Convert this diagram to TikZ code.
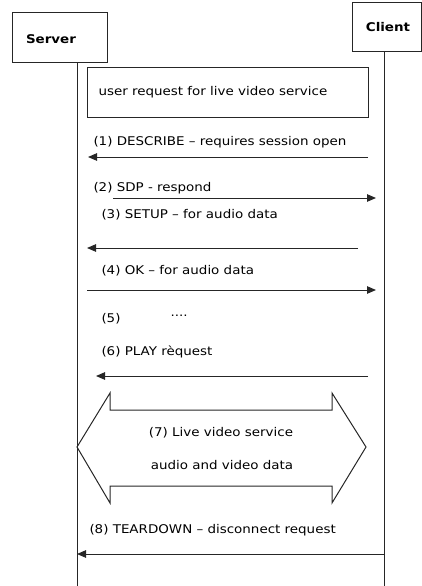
\documentclass[tikz,border=0pt]{standalone}
\usepackage{fontspec}
\setmainfont[FakeStretch=1.12]{DejaVu Sans}
\usetikzlibrary{arrows.meta}
\begin{document}
\begin{tikzpicture}[x=1pt,y=-1pt,
  line width=1pt, draw=black!85,
  box/.style={draw=black!85, rectangle, inner sep=0pt},
  lbl/.style={anchor=west, inner sep=0pt, text height=9pt, text depth=2.5pt, font=\fontsize{12}{14}\selectfont},
  ctr/.style={inner sep=0pt, text height=9pt, text depth=2.5pt, font=\fontsize{12}{14}\selectfont},
  head/.style={inner sep=0pt, font=\fontsize{12}{14}\selectfont\bfseries},
  msg/.style={draw=black!85, -{Triangle[length=9pt,width=7.5pt]}}]
\useasboundingbox (0,0) rectangle (422,586);
% participants
\node[box, minimum width=95pt, minimum height=50pt] (server) at (59.5,38) {};
\node[head] (servert) at (51,39) {Server};
\node[box, minimum width=69pt, minimum height=49pt] (client) at (386.5,27.5) {};
\node[head] (clientt) at (388,27) {Client};
% lifelines
\coordinate (stop) at (77,63);
\coordinate (sbot) at (77,586);
\coordinate (ctop) at (384.5,52);
\coordinate (cbot) at (384.5,586);
\draw (stop) -- (sbot);
\draw (ctop) -- (cbot);
% user request
\node[box, minimum width=281pt, minimum height=49pt] (req) at (227.5,92.5) {};
\node[lbl] (reqt) at (98,92) {user request for live video service};
% (1)
\node[lbl] (l1) at (93,142) {(1) DESCRIBE -- requires session open};
\coordinate (a1s) at (368,157);
\coordinate (a1e) at (88,157);
\draw[msg] (a1s) -- (a1e);
% (2)
\node[lbl] (l2) at (93,188) {(2) SDP - respond};
\coordinate (a2s) at (113,198);
\coordinate (a2e) at (376,198);
\draw[msg] (a2s) -- (a2e);
% (3)
\node[lbl] (l3) at (101,215) {(3) SETUP -- for audio data};
\coordinate (a3s) at (358,248);
\coordinate (a3e) at (87,248);
\draw[msg] (a3s) -- (a3e);
% (4)
\node[lbl] (l4) at (101,271) {(4) OK -- for audio data};
\coordinate (a4s) at (87,290);
\coordinate (a4e) at (376,290);
\draw[msg] (a4s) -- (a4e);
% (5)
\node[lbl] (l5) at (101,319) {(5)};
\node[lbl] (dots) at (170,313) {....};
% (6)
\node[lbl] (l6) at (101,352) {(6) PLAY rèquest};
\coordinate (a6s) at (368,376);
\coordinate (a6e) at (96,376);
\draw[msg] (a6s) -- (a6e);
% (7) double arrow
\draw (77,447) -- (110,393) -- (110,410) -- (332,410) -- (332,393) -- (366,447)
  -- (332,503) -- (332,486) -- (110,486) -- (110,503) -- cycle;
\node[ctr] (l7a) at (221,433) {(7) Live video service};
\node[ctr] (l7b) at (222,466) {audio and video data};
% (8)
\node[lbl] (l8) at (89,530) {(8) TEARDOWN -- disconnect request};
\coordinate (a8s) at (384.5,554);
\coordinate (a8e) at (77,554);
\draw[msg] (a8s) -- (a8e);
\end{tikzpicture}
\end{document}
